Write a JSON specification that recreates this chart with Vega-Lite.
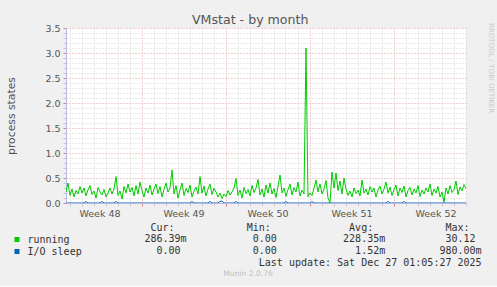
{
"$schema": "https://vega.github.io/schema/vega-lite/v6.json",
"background": "#f0f0f0",
"padding": {"left": 5, "top": 14, "right": 4, "bottom": 6},
"title": {"text": "VMstat - by month", "anchor": "middle", "frame": "bounds", "font": "DejaVu Sans", "fontSize": 12.6, "fontWeight": "normal", "color": "#555555", "offset": -4},
"spacing": 4,
"vconcat": [
{
"width": 400, "height": 175,
"view": {"fill": "white", "stroke": null},
"title": {"text": "RRDTOOL / TOBI OETIKER", "orient": "right", "anchor": "start", "font": "DejaVu Sans", "fontSize": 7, "fontWeight": "normal", "color": "#c8c8c8", "offset": 16},
"data": {"values": [
{"t":"2025-11-23T17:00Z","running":0.22,"iosleep":0},
{"t":"2025-11-23T21:00Z","running":0.40,"iosleep":0},
{"t":"2025-11-24T01:00Z","running":0.15,"iosleep":0},
{"t":"2025-11-24T05:00Z","running":0.28,"iosleep":0},
{"t":"2025-11-24T09:00Z","running":0.12,"iosleep":0},
{"t":"2025-11-24T13:00Z","running":0.25,"iosleep":0},
{"t":"2025-11-24T17:00Z","running":0.18,"iosleep":0},
{"t":"2025-11-24T21:00Z","running":0.33,"iosleep":0},
{"t":"2025-11-25T01:00Z","running":0.20,"iosleep":0},
{"t":"2025-11-25T05:00Z","running":0.30,"iosleep":0},
{"t":"2025-11-25T09:00Z","running":0.14,"iosleep":0.03},
{"t":"2025-11-25T13:00Z","running":0.26,"iosleep":0},
{"t":"2025-11-25T17:00Z","running":0.35,"iosleep":0},
{"t":"2025-11-25T21:00Z","running":0.17,"iosleep":0},
{"t":"2025-11-26T01:00Z","running":0.24,"iosleep":0},
{"t":"2025-11-26T05:00Z","running":0.10,"iosleep":0},
{"t":"2025-11-26T09:00Z","running":0.31,"iosleep":0},
{"t":"2025-11-26T13:00Z","running":0.22,"iosleep":0},
{"t":"2025-11-26T17:00Z","running":0.16,"iosleep":0.03},
{"t":"2025-11-26T21:00Z","running":0.27,"iosleep":0},
{"t":"2025-11-27T01:00Z","running":0.12,"iosleep":0},
{"t":"2025-11-27T05:00Z","running":0.20,"iosleep":0},
{"t":"2025-11-27T09:00Z","running":0.30,"iosleep":0},
{"t":"2025-11-27T13:00Z","running":0.18,"iosleep":0},
{"t":"2025-11-27T17:00Z","running":0.28,"iosleep":0},
{"t":"2025-11-27T21:00Z","running":0.53,"iosleep":0.03},
{"t":"2025-11-28T01:00Z","running":0.15,"iosleep":0},
{"t":"2025-11-28T05:00Z","running":0.24,"iosleep":0},
{"t":"2025-11-28T09:00Z","running":0.08,"iosleep":0},
{"t":"2025-11-28T13:00Z","running":0.33,"iosleep":0},
{"t":"2025-11-28T17:00Z","running":0.20,"iosleep":0},
{"t":"2025-11-28T21:00Z","running":0.38,"iosleep":0},
{"t":"2025-11-29T01:00Z","running":0.22,"iosleep":0},
{"t":"2025-11-29T05:00Z","running":0.31,"iosleep":0},
{"t":"2025-11-29T09:00Z","running":0.14,"iosleep":0},
{"t":"2025-11-29T13:00Z","running":0.35,"iosleep":0},
{"t":"2025-11-29T17:00Z","running":0.18,"iosleep":0},
{"t":"2025-11-29T21:00Z","running":0.42,"iosleep":0},
{"t":"2025-11-30T01:00Z","running":0.25,"iosleep":0},
{"t":"2025-11-30T05:00Z","running":0.12,"iosleep":0},
{"t":"2025-11-30T09:00Z","running":0.30,"iosleep":0},
{"t":"2025-11-30T13:00Z","running":0.20,"iosleep":0},
{"t":"2025-11-30T17:00Z","running":0.36,"iosleep":0},
{"t":"2025-11-30T21:00Z","running":0.16,"iosleep":0},
{"t":"2025-12-01T01:00Z","running":0.28,"iosleep":0},
{"t":"2025-12-01T05:00Z","running":0.38,"iosleep":0},
{"t":"2025-12-01T09:00Z","running":0.19,"iosleep":0},
{"t":"2025-12-01T13:00Z","running":0.33,"iosleep":0},
{"t":"2025-12-01T17:00Z","running":0.12,"iosleep":0},
{"t":"2025-12-01T21:00Z","running":0.27,"iosleep":0},
{"t":"2025-12-02T01:00Z","running":0.40,"iosleep":0},
{"t":"2025-12-02T05:00Z","running":0.22,"iosleep":0},
{"t":"2025-12-02T09:00Z","running":0.30,"iosleep":0},
{"t":"2025-12-02T13:00Z","running":0.66,"iosleep":0},
{"t":"2025-12-02T17:00Z","running":0.18,"iosleep":0},
{"t":"2025-12-02T21:00Z","running":0.35,"iosleep":0},
{"t":"2025-12-03T01:00Z","running":0.10,"iosleep":0},
{"t":"2025-12-03T05:00Z","running":0.26,"iosleep":0},
{"t":"2025-12-03T09:00Z","running":0.40,"iosleep":0},
{"t":"2025-12-03T13:00Z","running":0.15,"iosleep":0},
{"t":"2025-12-03T17:00Z","running":0.29,"iosleep":0},
{"t":"2025-12-03T21:00Z","running":0.21,"iosleep":0},
{"t":"2025-12-04T01:00Z","running":0.36,"iosleep":0},
{"t":"2025-12-04T05:00Z","running":0.12,"iosleep":0.03},
{"t":"2025-12-04T09:00Z","running":0.24,"iosleep":0},
{"t":"2025-12-04T13:00Z","running":0.32,"iosleep":0},
{"t":"2025-12-04T17:00Z","running":0.18,"iosleep":0},
{"t":"2025-12-04T21:00Z","running":0.53,"iosleep":0},
{"t":"2025-12-05T01:00Z","running":0.20,"iosleep":0},
{"t":"2025-12-05T05:00Z","running":0.34,"iosleep":0},
{"t":"2025-12-05T09:00Z","running":0.14,"iosleep":0},
{"t":"2025-12-05T13:00Z","running":0.28,"iosleep":0},
{"t":"2025-12-05T17:00Z","running":0.38,"iosleep":0.03},
{"t":"2025-12-05T21:00Z","running":0.17,"iosleep":0},
{"t":"2025-12-06T01:00Z","running":0.30,"iosleep":0},
{"t":"2025-12-06T05:00Z","running":0.22,"iosleep":0},
{"t":"2025-12-06T09:00Z","running":0.12,"iosleep":0},
{"t":"2025-12-06T13:00Z","running":0.20,"iosleep":0.03},
{"t":"2025-12-06T17:00Z","running":0.09,"iosleep":0.04},
{"t":"2025-12-06T21:00Z","running":0.18,"iosleep":0},
{"t":"2025-12-07T01:00Z","running":0.13,"iosleep":0},
{"t":"2025-12-07T05:00Z","running":0.25,"iosleep":0},
{"t":"2025-12-07T09:00Z","running":0.16,"iosleep":0},
{"t":"2025-12-07T13:00Z","running":0.22,"iosleep":0},
{"t":"2025-12-07T17:00Z","running":0.30,"iosleep":0},
{"t":"2025-12-07T21:00Z","running":0.49,"iosleep":0.03},
{"t":"2025-12-08T01:00Z","running":0.15,"iosleep":0},
{"t":"2025-12-08T05:00Z","running":0.26,"iosleep":0},
{"t":"2025-12-08T09:00Z","running":0.10,"iosleep":0},
{"t":"2025-12-08T13:00Z","running":0.31,"iosleep":0},
{"t":"2025-12-08T17:00Z","running":0.19,"iosleep":0},
{"t":"2025-12-08T21:00Z","running":0.27,"iosleep":0},
{"t":"2025-12-09T01:00Z","running":0.14,"iosleep":0},
{"t":"2025-12-09T05:00Z","running":0.35,"iosleep":0},
{"t":"2025-12-09T09:00Z","running":0.21,"iosleep":0},
{"t":"2025-12-09T13:00Z","running":0.30,"iosleep":0},
{"t":"2025-12-09T17:00Z","running":0.47,"iosleep":0},
{"t":"2025-12-09T21:00Z","running":0.16,"iosleep":0},
{"t":"2025-12-10T01:00Z","running":0.28,"iosleep":0},
{"t":"2025-12-10T05:00Z","running":0.12,"iosleep":0},
{"t":"2025-12-10T09:00Z","running":0.36,"iosleep":0},
{"t":"2025-12-10T13:00Z","running":0.20,"iosleep":0},
{"t":"2025-12-10T17:00Z","running":0.40,"iosleep":0},
{"t":"2025-12-10T21:00Z","running":0.18,"iosleep":0},
{"t":"2025-12-11T01:00Z","running":0.29,"iosleep":0},
{"t":"2025-12-11T05:00Z","running":0.11,"iosleep":0},
{"t":"2025-12-11T09:00Z","running":0.33,"iosleep":0},
{"t":"2025-12-11T13:00Z","running":0.56,"iosleep":0},
{"t":"2025-12-11T17:00Z","running":0.20,"iosleep":0},
{"t":"2025-12-11T21:00Z","running":0.30,"iosleep":0},
{"t":"2025-12-12T01:00Z","running":0.13,"iosleep":0.03},
{"t":"2025-12-12T05:00Z","running":0.27,"iosleep":0},
{"t":"2025-12-12T09:00Z","running":0.38,"iosleep":0},
{"t":"2025-12-12T13:00Z","running":0.16,"iosleep":0},
{"t":"2025-12-12T17:00Z","running":0.31,"iosleep":0},
{"t":"2025-12-12T21:00Z","running":0.22,"iosleep":0},
{"t":"2025-12-13T01:00Z","running":0.42,"iosleep":0},
{"t":"2025-12-13T05:00Z","running":0.14,"iosleep":0},
{"t":"2025-12-13T09:00Z","running":0.26,"iosleep":0},
{"t":"2025-12-13T13:00Z","running":0.18,"iosleep":0},
{"t":"2025-12-13T17:00Z","running":3.10,"iosleep":0},
{"t":"2025-12-13T21:00Z","running":0.12,"iosleep":0},
{"t":"2025-12-14T01:00Z","running":0.20,"iosleep":0},
{"t":"2025-12-14T05:00Z","running":0.15,"iosleep":0.03},
{"t":"2025-12-14T09:00Z","running":0.30,"iosleep":0},
{"t":"2025-12-14T13:00Z","running":0.46,"iosleep":0},
{"t":"2025-12-14T17:00Z","running":0.22,"iosleep":0},
{"t":"2025-12-14T21:00Z","running":0.38,"iosleep":0},
{"t":"2025-12-15T01:00Z","running":0.18,"iosleep":0},
{"t":"2025-12-15T05:00Z","running":0.28,"iosleep":0},
{"t":"2025-12-15T09:00Z","running":0.45,"iosleep":0},
{"t":"2025-12-15T13:00Z","running":0.10,"iosleep":0},
{"t":"2025-12-15T17:00Z","running":0.00,"iosleep":0},
{"t":"2025-12-15T21:00Z","running":0.62,"iosleep":0},
{"t":"2025-12-16T01:00Z","running":0.30,"iosleep":0},
{"t":"2025-12-16T05:00Z","running":0.60,"iosleep":0},
{"t":"2025-12-16T09:00Z","running":0.25,"iosleep":0},
{"t":"2025-12-16T13:00Z","running":0.44,"iosleep":0},
{"t":"2025-12-16T17:00Z","running":0.18,"iosleep":0},
{"t":"2025-12-16T21:00Z","running":0.50,"iosleep":0},
{"t":"2025-12-17T01:00Z","running":0.28,"iosleep":0},
{"t":"2025-12-17T05:00Z","running":0.15,"iosleep":0},
{"t":"2025-12-17T09:00Z","running":0.24,"iosleep":0},
{"t":"2025-12-17T13:00Z","running":0.12,"iosleep":0},
{"t":"2025-12-17T17:00Z","running":0.30,"iosleep":0},
{"t":"2025-12-17T21:00Z","running":0.19,"iosleep":0},
{"t":"2025-12-18T01:00Z","running":0.26,"iosleep":0},
{"t":"2025-12-18T05:00Z","running":0.14,"iosleep":0},
{"t":"2025-12-18T09:00Z","running":0.46,"iosleep":0},
{"t":"2025-12-18T13:00Z","running":0.20,"iosleep":0},
{"t":"2025-12-18T17:00Z","running":0.28,"iosleep":0},
{"t":"2025-12-18T21:00Z","running":0.16,"iosleep":0},
{"t":"2025-12-19T01:00Z","running":0.33,"iosleep":0},
{"t":"2025-12-19T05:00Z","running":0.22,"iosleep":0},
{"t":"2025-12-19T09:00Z","running":0.30,"iosleep":0},
{"t":"2025-12-19T13:00Z","running":0.12,"iosleep":0},
{"t":"2025-12-19T17:00Z","running":0.26,"iosleep":0},
{"t":"2025-12-19T21:00Z","running":0.34,"iosleep":0},
{"t":"2025-12-20T01:00Z","running":0.18,"iosleep":0},
{"t":"2025-12-20T05:00Z","running":0.28,"iosleep":0},
{"t":"2025-12-20T09:00Z","running":0.42,"iosleep":0},
{"t":"2025-12-20T13:00Z","running":0.20,"iosleep":0.03},
{"t":"2025-12-20T17:00Z","running":0.32,"iosleep":0},
{"t":"2025-12-20T21:00Z","running":0.15,"iosleep":0},
{"t":"2025-12-21T01:00Z","running":0.27,"iosleep":0},
{"t":"2025-12-21T05:00Z","running":0.36,"iosleep":0},
{"t":"2025-12-21T09:00Z","running":0.14,"iosleep":0},
{"t":"2025-12-21T13:00Z","running":0.30,"iosleep":0},
{"t":"2025-12-21T17:00Z","running":0.21,"iosleep":0},
{"t":"2025-12-21T21:00Z","running":0.34,"iosleep":0.03},
{"t":"2025-12-22T01:00Z","running":0.12,"iosleep":0},
{"t":"2025-12-22T05:00Z","running":0.25,"iosleep":0},
{"t":"2025-12-22T09:00Z","running":0.31,"iosleep":0},
{"t":"2025-12-22T13:00Z","running":0.16,"iosleep":0},
{"t":"2025-12-22T17:00Z","running":0.28,"iosleep":0},
{"t":"2025-12-22T21:00Z","running":0.20,"iosleep":0},
{"t":"2025-12-23T01:00Z","running":0.35,"iosleep":0},
{"t":"2025-12-23T05:00Z","running":0.13,"iosleep":0},
{"t":"2025-12-23T09:00Z","running":0.26,"iosleep":0},
{"t":"2025-12-23T13:00Z","running":0.18,"iosleep":0},
{"t":"2025-12-23T17:00Z","running":0.30,"iosleep":0},
{"t":"2025-12-23T21:00Z","running":0.22,"iosleep":0},
{"t":"2025-12-24T01:00Z","running":0.38,"iosleep":0},
{"t":"2025-12-24T05:00Z","running":0.15,"iosleep":0},
{"t":"2025-12-24T09:00Z","running":0.28,"iosleep":0},
{"t":"2025-12-24T13:00Z","running":0.20,"iosleep":0},
{"t":"2025-12-24T17:00Z","running":0.33,"iosleep":0},
{"t":"2025-12-24T21:00Z","running":0.12,"iosleep":0},
{"t":"2025-12-25T01:00Z","running":0.22,"iosleep":0},
{"t":"2025-12-25T05:00Z","running":0.01,"iosleep":0},
{"t":"2025-12-25T09:00Z","running":0.30,"iosleep":0},
{"t":"2025-12-25T13:00Z","running":0.18,"iosleep":0},
{"t":"2025-12-25T17:00Z","running":0.35,"iosleep":0},
{"t":"2025-12-25T21:00Z","running":0.21,"iosleep":0},
{"t":"2025-12-26T01:00Z","running":0.27,"iosleep":0},
{"t":"2025-12-26T05:00Z","running":0.44,"iosleep":0},
{"t":"2025-12-26T09:00Z","running":0.17,"iosleep":0},
{"t":"2025-12-26T13:00Z","running":0.32,"iosleep":0},
{"t":"2025-12-26T17:00Z","running":0.24,"iosleep":0},
{"t":"2025-12-26T21:00Z","running":0.37,"iosleep":0},
{"t":"2025-12-27T01:00Z","running":0.29,"iosleep":0}
]},
"encoding": {
"x": {"field": "t", "type": "temporal",
 "scale": {"type": "utc", "nice": false, "domain": [{"year": 2025, "month": 11, "date": 23, "hours": 17, "utc": true}, {"year": 2025, "month": 12, "date": 27, "hours": 1, "utc": true}]},
 "axis": {"title": null, "tickCount": {"interval": "day", "step": 1}, "grid": true,
  "gridColor": {"condition": {"test": "utcFormat(datum.value,'%w')==='0'", "value": "#e6a0a0"}, "value": "#d4d4d4"},
  "gridDash": [1, 2], "gridWidth": 1,
  "domain": true, "domainColor": "#b8b8e8",
  "ticks": true, "tickSize": 3,
  "tickColor": {"condition": {"test": "utcFormat(datum.value,'%w')==='0'", "value": "#e08080"}, "value": "#c8c8c8"},
  "labelExpr": "utcFormat(datum.value,'%w')==='3' ? 'Week ' + utcFormat(datum.value,'%V') : ''",
  "labelOffset": 6, "labelPadding": 2, "labelFont": "DejaVu Sans", "labelFontSize": 9.5, "labelColor": "#555555",
  "labelOverlap": false, "labelFlush": false, "labelBound": false, "labelAngle": 0}}
},
"layer": [
{"mark": {"type": "line", "color": "#00cc00", "strokeWidth": 1, "clip": true},
 "encoding": {"y": {"field": "running", "type": "quantitative",
  "scale": {"domain": [0, 3.5], "nice": false},
  "axis": {"title": "process states", "titleFont": "DejaVu Sans", "titleFontSize": 10.8, "titleFontWeight": "normal", "titleColor": "#555555", "titlePadding": 28,
   "tickCount": 35,
   "grid": true,
   "gridColor": {"condition": {"test": "round(datum.value*10)%5===0", "value": "#e6a0a0"}, "value": "#d4d4d4"},
   "gridDash": [1, 2],
   "domain": true, "domainColor": "#b8b8e8",
   "tickSize": 3,
   "tickColor": {"condition": {"test": "round(datum.value*10)%5===0", "value": "#e08080"}, "value": "#c8c8c8"},
   "labelExpr": "round(datum.value*10)%5===0 ? format(datum.value,'.1f') : ''",
   "labelPadding": 3, "labelFont": "DejaVu Sans", "labelFontSize": 9.5, "labelColor": "#555555",
   "labelOverlap": false, "labelFlush": false, "labelBound": false}}}},
{"mark": {"type": "line", "color": "#0066b3", "strokeWidth": 1, "clip": true},
 "encoding": {"y": {"field": "iosleep", "type": "quantitative", "title": "process states"}}}
]
},
{
"width": 364, "height": 58,
"view": {"fill": null, "stroke": null},
"data": {"values": [
{"line": "header", "txt": "\u200b\u00a0\u00a0\u00a0\u00a0\u00a0\u00a0\u00a0\u00a0\u00a0\u00a0\u00a0Cur:\u00a0\u00a0\u00a0\u00a0\u00a0\u00a0\u00a0\u00a0\u00a0\u00a0\u00a0\u00a0Min:\u00a0\u00a0\u00a0\u00a0\u00a0\u00a0\u00a0\u00a0\u00a0\u00a0\u00a0\u00a0\u00a0Avg:\u00a0\u00a0\u00a0\u00a0\u00a0\u00a0\u00a0\u00a0\u00a0\u00a0\u00a0\u00a0Max:"},
{"line": "running", "txt": "\u200b\u00a0\u00a0\u00a0\u00a0\u00a0\u00a0\u00a0\u00a0\u00a0\u00a0286.39m\u00a0\u00a0\u00a0\u00a0\u00a0\u00a0\u00a0\u00a0\u00a0\u00a0\u00a00.00\u00a0\u00a0\u00a0\u00a0\u00a0\u00a0\u00a0\u00a0\u00a0\u00a0\u00a0228.35m\u00a0\u00a0\u00a0\u00a0\u00a0\u00a0\u00a0\u00a0\u00a0\u00a030.12"},
{"line": "I/O sleep", "txt": "\u200b\u00a0\u00a0\u00a0\u00a0\u00a0\u00a0\u00a0\u00a0\u00a0\u00a0\u00a0\u00a00.00\u00a0\u00a0\u00a0\u00a0\u00a0\u00a0\u00a0\u00a0\u00a0\u00a0\u00a0\u00a00.00\u00a0\u00a0\u00a0\u00a0\u00a0\u00a0\u00a0\u00a0\u00a0\u00a0\u00a0\u00a0\u00a01.52m\u00a0\u00a0\u00a0\u00a0\u00a0\u00a0\u00a0\u00a0\u00a0980.00m"},
{"line": "update", "txt": "\u200b\u00a0\u00a0\u00a0\u00a0\u00a0\u00a0\u00a0\u00a0\u00a0\u00a0\u00a0\u00a0\u00a0\u00a0\u00a0\u00a0\u00a0\u00a0\u00a0\u00a0\u00a0\u00a0\u00a0\u00a0\u00a0\u00a0\u00a0\u00a0\u00a0Last update: Sat Dec 27 01:05:27 2025"},
{"line": "footer", "txt": "Munin 2.0.76"}
]},
"layer": [
{"transform": [{"filter": "datum.line !== 'footer'"}],
 "mark": {"type": "text", "align": "left", "baseline": "middle", "font": "DejaVu Sans Mono", "fontSize": 10, "color": "#333333"},
 "encoding": {
  "x": {"datum": "legend", "type": "nominal", "scale": {"type": "band", "paddingInner": 0, "paddingOuter": 0}, "axis": null, "bandPosition": 0.05},
  "y": {"field": "line", "type": "nominal",
   "scale": {"type": "point", "domain": ["header", "running", "I/O sleep", "update", "footer"], "padding": 0.5},
   "axis": {"title": null, "domain": false, "grid": false, "offset": 47,
    "ticks": true, "tickSize": 5, "tickWidth": 5, "tickCap": "butt",
    "tickColor": {"condition": [{"test": "datum.value === 'running'", "value": "#00cc00"}, {"test": "datum.value === 'I/O sleep'", "value": "#0066b3"}], "value": "transparent"},
    "labelExpr": "datum.value === 'running' || datum.value === 'I/O sleep' ? datum.value : ''",
    "labelAlign": "left", "labelBaseline": "middle", "labelPadding": -13,
    "labelFont": "DejaVu Sans Mono", "labelFontSize": 10, "labelColor": "#333333",
    "labelOverlap": false, "labelBound": false, "labelFlush": false}},
  "text": {"field": "txt"}}},
{"transform": [{"filter": "datum.line === 'footer'"}],
 "mark": {"type": "text", "align": "center", "baseline": "middle", "font": "DejaVu Sans", "fontSize": 7.6, "color": "#c0c0c0"},
 "encoding": {
  "x": {"datum": "legend", "type": "nominal", "axis": null, "bandPosition": 0.5},
  "y": {"field": "line", "type": "nominal"},
  "text": {"field": "txt"}}}
]
}
],
"config": {"view": {"stroke": null}}
}
